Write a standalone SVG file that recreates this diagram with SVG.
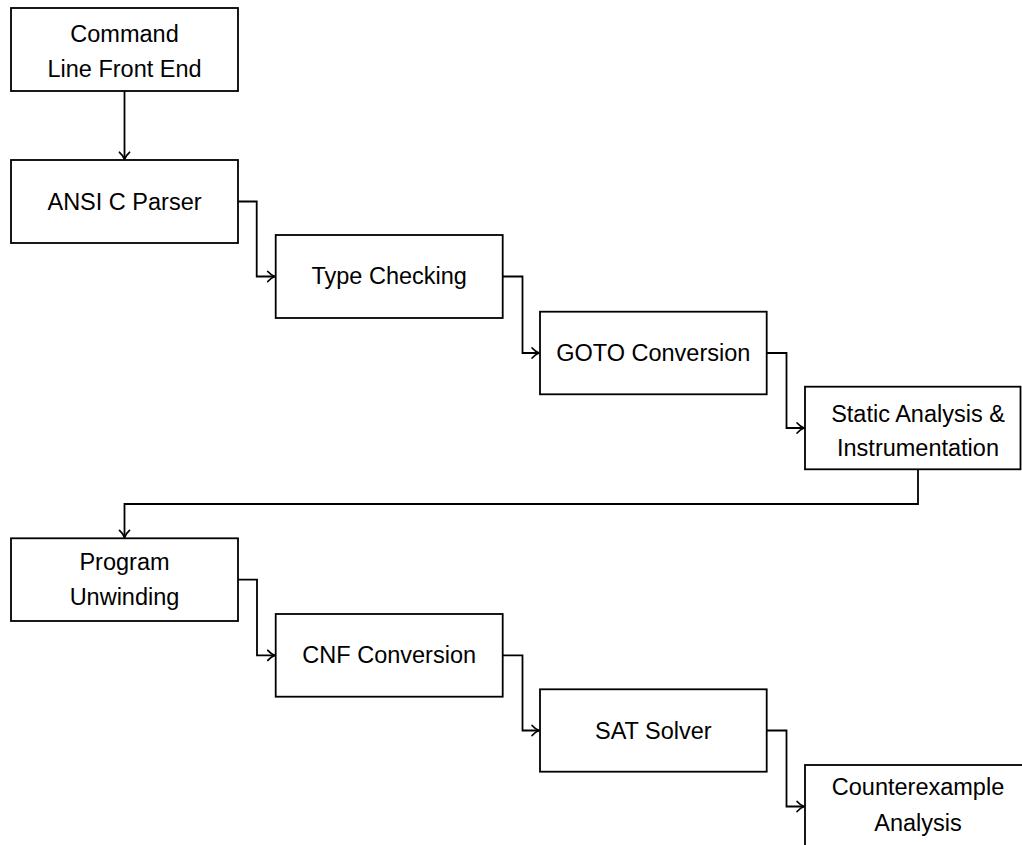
<svg xmlns="http://www.w3.org/2000/svg" width="1022" height="845" viewBox="0 0 1022 845">
  <style>
    .box { fill: #ffffff; stroke: #000000; stroke-width: 1.8; }
    .lbl { font-family: "Liberation Sans", Arial, sans-serif; font-size: 23.5px; fill: #000000; text-anchor: middle; }
    .edge { fill: none; stroke: #000000; stroke-width: 1.8; marker-end: url(#tip); }
  </style>
  <defs>
    <marker id="tip" viewBox="-9 -7 11 14" refX="0" refY="0" markerWidth="11" markerHeight="14" markerUnits="userSpaceOnUse" orient="auto">
      <path d="M-7,-5 C-4.5,-2.2 -1.8,-0.6 0,0 C-1.8,0.6 -4.5,2.2 -7,5" fill="none" stroke="#000000" stroke-width="1.8" stroke-linecap="round" stroke-linejoin="round"/>
    </marker>
  </defs>

  <rect width="1022" height="845" fill="#ffffff"/>

  <!-- connectors between the pipeline stages -->
  <g id="connectors">
    <path class="edge" d="M124.5,91 V159.3"/>
    <path class="edge" d="M238,201.5 H256.7 V276.5 H274.8"/>
    <path class="edge" d="M502.7,276.5 H522.5 V353 H539.1"/>
    <path class="edge" d="M766.7,353 H786.5 V428 H804.1"/>
    <path class="edge" d="M918,469.3 V504 H124.5 V537.4"/>
    <path class="edge" d="M238,579.7 H257 V655.3 H274.8"/>
    <path class="edge" d="M502.7,655.3 H522.5 V730.5 H539.1"/>
    <path class="edge" d="M766.7,730.5 H786.5 V806.5 H804.1"/>
  </g>

  <g id="frontend">
    <rect class="box" x="11" y="8" width="227" height="83"/>
    <text class="lbl" x="124.5" y="41.5">Command</text>
    <text class="lbl" x="124.5" y="76.5">Line Front End</text>
  </g>

  <g id="parser">
    <rect class="box" x="11" y="160" width="227" height="83"/>
    <text class="lbl" x="124.5" y="209.5">ANSI C Parser</text>
  </g>

  <g id="typecheck">
    <rect class="box" x="275.7" y="235" width="227" height="83"/>
    <text class="lbl" x="389.2" y="284">Type Checking</text>
  </g>

  <g id="goto">
    <rect class="box" x="540" y="311.7" width="226.7" height="82.6"/>
    <text class="lbl" x="653.3" y="361">GOTO Conversion</text>
  </g>

  <g id="static">
    <rect class="box" x="805" y="386.7" width="215.5" height="82.6"/>
    <text class="lbl" x="918" y="421.5">Static Analysis &amp;</text>
    <text class="lbl" x="918" y="455.5">Instrumentation</text>
  </g>

  <g id="unwinding">
    <rect class="box" x="11" y="538.3" width="227" height="82.7"/>
    <text class="lbl" x="124.5" y="569.5">Program</text>
    <text class="lbl" x="124.5" y="605">Unwinding</text>
  </g>

  <g id="cnf">
    <rect class="box" x="275.7" y="614" width="227" height="82.7"/>
    <text class="lbl" x="389.2" y="663">CNF Conversion</text>
  </g>

  <g id="sat">
    <rect class="box" x="540" y="689.3" width="226.7" height="82.4"/>
    <text class="lbl" x="653.3" y="738.5">SAT Solver</text>
  </g>

  <g id="counterexample">
    <rect class="box" x="805" y="765" width="227" height="83"/>
    <text class="lbl" x="918" y="795">Counterexample</text>
    <text class="lbl" x="918" y="830.5">Analysis</text>
  </g>
</svg>
